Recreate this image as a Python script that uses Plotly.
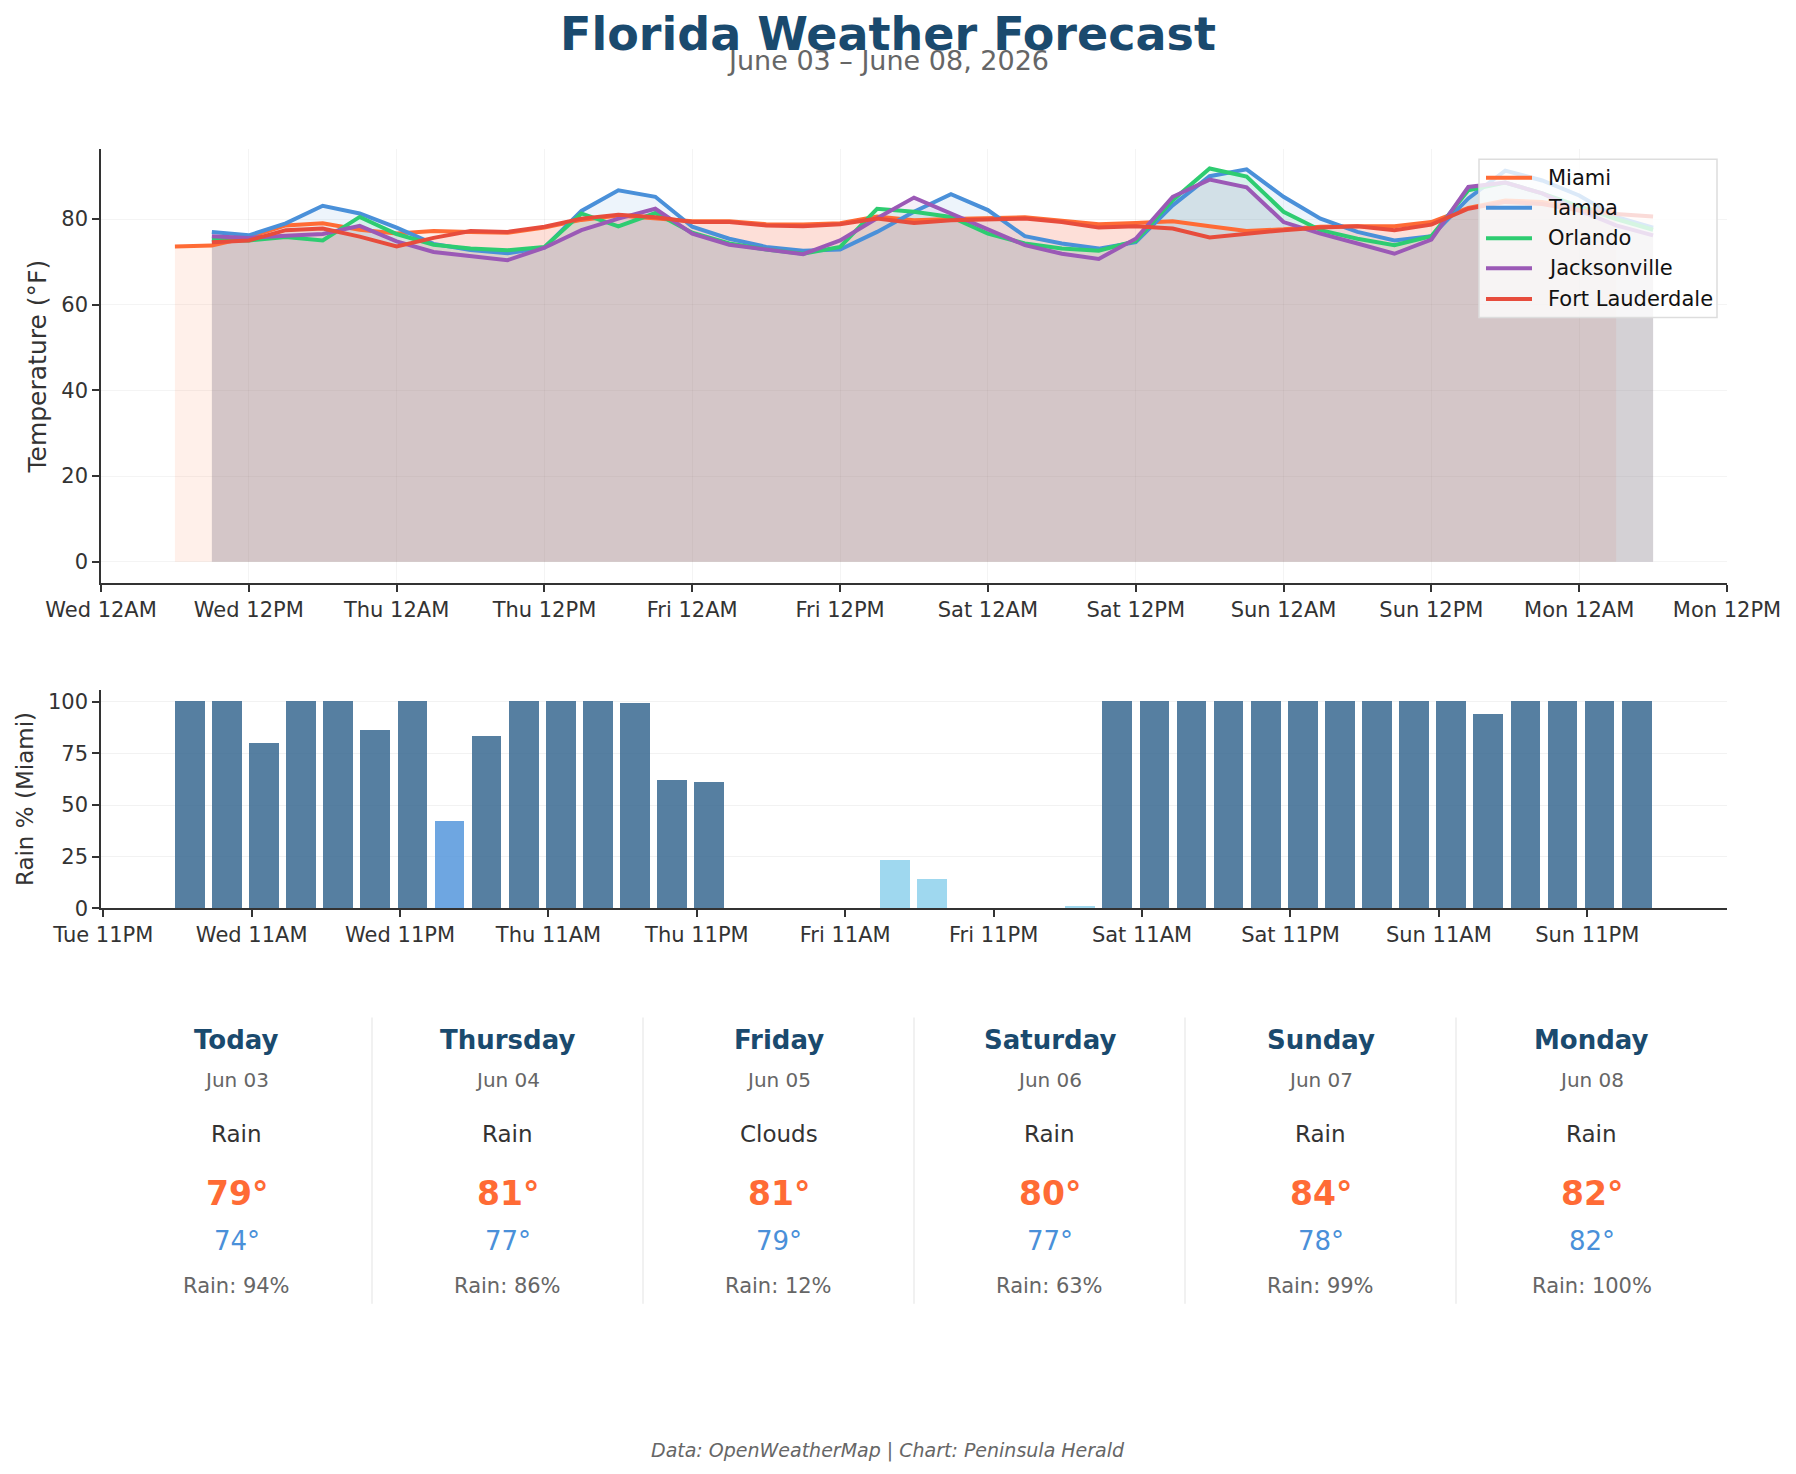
import plotly.graph_objects as go

W, H = 1796, 1474
HP = 1460           # effective vertical extent used for paper coordinates
L, R = 101, 1727    # plot area left/right in pixels

# ---------------- data ----------------
times = [
    "2026-06-03 06:00", "2026-06-03 09:00", "2026-06-03 12:00", "2026-06-03 15:00", "2026-06-03 18:00", "2026-06-03 21:00",
    "2026-06-04 00:00", "2026-06-04 03:00", "2026-06-04 06:00", "2026-06-04 09:00", "2026-06-04 12:00", "2026-06-04 15:00", "2026-06-04 18:00", "2026-06-04 21:00",
    "2026-06-05 00:00", "2026-06-05 03:00", "2026-06-05 06:00", "2026-06-05 09:00", "2026-06-05 12:00", "2026-06-05 15:00", "2026-06-05 18:00", "2026-06-05 21:00",
    "2026-06-06 00:00", "2026-06-06 03:00", "2026-06-06 06:00", "2026-06-06 09:00", "2026-06-06 12:00", "2026-06-06 15:00", "2026-06-06 18:00", "2026-06-06 21:00",
    "2026-06-07 00:00", "2026-06-07 03:00", "2026-06-07 06:00", "2026-06-07 09:00", "2026-06-07 12:00", "2026-06-07 15:00", "2026-06-07 18:00", "2026-06-07 21:00",
    "2026-06-08 00:00", "2026-06-08 03:00", "2026-06-08 06:00",
]
miami_times = times[:40]
other_times = times[1:]

miami = [73.6, 73.8, 75.8, 78.5, 79.0, 77.5,
         76.6, 77.2, 77.0, 76.8, 78.0, 79.8, 80.8, 80.1,
         79.5, 79.5, 78.8, 78.7, 79.0, 80.6, 79.7, 80.0,
         80.2, 80.4, 79.6, 78.8, 79.1, 79.5, 78.3, 77.2,
         77.6, 78.2, 78.3, 78.3, 79.3, 82.6, 84.3, 84.0,
         82.4, 82.0]
tampa = [77.0, 76.2, 79.0, 83.1, 81.3,
         78.0, 74.2, 72.8, 72.0, 73.3, 81.9, 86.7, 85.2,
         78.2, 75.4, 73.5, 72.6, 72.9, 77.0, 81.7, 85.8,
         82.1, 76.0, 74.3, 73.1, 74.6, 83.2, 90.0, 91.6,
         85.2, 80.1, 77.0, 75.0, 76.0, 84.8, 91.3, 89.0,
         85.5, 80.5, 78.0]
orlando = [75.2, 75.0, 75.8, 75.0, 80.5,
           76.5, 74.0, 73.1, 72.7, 73.5, 81.3, 78.3, 81.4,
           76.8, 74.3, 72.9, 71.9, 73.5, 82.4, 81.7, 80.5,
           76.6, 74.3, 73.1, 72.6, 74.9, 84.4, 91.8, 89.9,
           81.7, 77.4, 75.4, 73.9, 76.0, 86.7, 88.5, 86.0,
           83.0, 80.0, 77.5]
jacksonville = [76.0, 75.6, 76.1, 76.5, 78.4,
                74.8, 72.3, 71.3, 70.4, 73.3, 77.4, 80.1, 82.4,
                76.6, 74.0, 72.9, 71.8, 75.0, 80.2, 85.0, 81.3,
                77.4, 73.9, 71.9, 70.7, 75.4, 85.2, 89.2, 87.4,
                79.3, 76.6, 74.3, 71.9, 75.2, 87.5, 88.5, 86.0,
                82.0, 78.5, 76.2]
fort_lauderdale = [74.6, 75.0, 77.4, 77.8, 75.9,
                   73.6, 75.6, 77.2, 77.0, 78.2, 80.1, 81.0, 80.4,
                   79.3, 79.3, 78.5, 78.3, 78.8, 80.1, 79.1, 79.7,
                   79.9, 80.1, 79.3, 78.0, 78.3, 77.8, 75.7, 76.6,
                   77.4, 78.0, 78.3, 77.4, 78.7, 82.4, 84.0, 83.5,
                   82.0, 81.2, 80.6]

rain_miami = [100, 100, 80, 100, 100, 86,
              100, 42, 83, 100, 100, 100, 99, 62,
              61, 0, 0, 0, 0, 23, 14, 0,
              0, 0, 1, 100, 100, 100, 100, 100,
              100, 100, 100, 100, 100, 94, 100, 100,
              100, 100]

top_tickvals = ["2026-06-03 00:00", "2026-06-03 12:00", "2026-06-04 00:00", "2026-06-04 12:00",
                "2026-06-05 00:00", "2026-06-05 12:00", "2026-06-06 00:00", "2026-06-06 12:00",
                "2026-06-07 00:00", "2026-06-07 12:00", "2026-06-08 00:00", "2026-06-08 12:00"]
top_ticktext = ["Wed 12AM", "Wed 12PM", "Thu 12AM", "Thu 12PM", "Fri 12AM", "Fri 12PM",
                "Sat 12AM", "Sat 12PM", "Sun 12AM", "Sun 12PM", "Mon 12AM", "Mon 12PM"]
bar_tickvals = ["2026-06-02 23:00", "2026-06-03 11:00", "2026-06-03 23:00", "2026-06-04 11:00",
                "2026-06-04 23:00", "2026-06-05 11:00", "2026-06-05 23:00", "2026-06-06 11:00",
                "2026-06-06 23:00", "2026-06-07 11:00", "2026-06-07 23:00"]
bar_ticktext = ["Tue 11PM", "Wed 11AM", "Wed 11PM", "Thu 11AM", "Thu 11PM", "Fri 11AM",
                "Fri 11PM", "Sat 11AM", "Sat 11PM", "Sun 11AM", "Sun 11PM"]

days = ["Today", "Thursday", "Friday", "Saturday", "Sunday", "Monday"]
dates = ["Jun 03", "Jun 04", "Jun 05", "Jun 06", "Jun 07", "Jun 08"]
conditions = ["Rain", "Rain", "Clouds", "Rain", "Rain", "Rain"]
highs = [79, 81, 81, 80, 84, 82]
lows = [74, 77, 79, 77, 78, 82]
rain_daily = [94, 86, 12, 63, 99, 100]

# ---------------- styles ----------------
FONT = "DejaVu Sans"
TITLE_C = "#1a4a6e"
cities = [
    ("Miami", miami_times, miami, "#ff6b35", "rgba(255,107,53,0.10)"),
    ("Tampa", other_times, tampa, "#4a90d9", "rgba(74,144,217,0.10)"),
    ("Orlando", other_times, orlando, "#2ecc71", "rgba(46,204,113,0.10)"),
    ("Jacksonville", other_times, jacksonville, "#9b59b6", "rgba(155,89,182,0.10)"),
    ("Fort Lauderdale", other_times, fort_lauderdale, "#e74c3c", "rgba(231,76,60,0.10)"),
]


def px(y):
    return 1 - y / HP


def pxx(x):
    return (x - L) / (R - L)


fig = go.Figure()
for name, t, v, col, fcol in cities:
    fig.add_trace(go.Scatter(x=t, y=v, mode="lines", fill="tozeroy", fillcolor=fcol,
                             line=dict(width=0, color=fcol), showlegend=False,
                             hoverinfo="skip", xaxis="x", yaxis="y"))
for name, t, v, col, fcol in cities:
    fig.add_trace(go.Scatter(x=t, y=v, mode="lines", name=name, showlegend=False,
                             line=dict(width=4, color=col), xaxis="x", yaxis="y"))


def bar_color(v):
    if v >= 50:
        return "rgba(44,95,138,0.8)"
    if v >= 25:
        return "rgba(74,144,217,0.8)"
    return "rgba(135,206,235,0.8)"


fig.add_trace(go.Bar(x=miami_times, y=rain_miami, width=2.4 * 3600 * 1000,
                     marker=dict(color=[bar_color(v) for v in rain_miami], line=dict(width=0)),
                     showlegend=False, xaxis="x2", yaxis="y2"))

axis_common = dict(showline=True, linecolor="#333", linewidth=1.6, ticks="outside",
                   ticklen=7, tickwidth=1.5, tickcolor="#333",
                   tickfont=dict(family=FONT, size=21, color="#333"),
                   zeroline=False, mirror=False)

annotations = []
shapes = []


def note(text, x, y, size, color, **kw):
    d = dict(text=text, x=x, y=y, xref="paper", yref="paper", showarrow=False,
             xanchor="center", yanchor="middle", font=dict(family=FONT, size=size, color=color))
    d.update(kw)
    annotations.append(d)


note("<b>Florida Weather Forecast</b>", pxx(888), px(34), 46, TITLE_C)
note("June 03 – June 08, 2026", pxx(888), px(60), 27, "#666")
note("Temperature (°F)", pxx(38), px(366), 25, "#333", textangle=-90)
note("Rain % (Miami)", pxx(25), px(798), 23, "#333", textangle=-90)
note("<i>Data: OpenWeatherMap | Chart: Peninsula Herald</i>", pxx(888), px(1449), 19, "#666")

# legend (drawn by hand to match the reference box)
shapes.append(dict(type="rect", xref="paper", yref="paper", layer="above",
                   x0=pxx(1479), x1=pxx(1717), y0=px(317), y1=px(159),
                   fillcolor="rgba(255,255,255,0.8)", line=dict(color="#dddddd", width=1.5)))
legend_y = [177.5, 207.5, 238, 268, 298.5]
for (name, t, v, col, fcol), ly in zip(cities, legend_y):
    shapes.append(dict(type="line", xref="paper", yref="paper", layer="above",
                       x0=pxx(1486), x1=pxx(1532), y0=px(ly), y1=px(ly),
                       line=dict(color=col, width=4)))
    note(name, pxx(1546), px(ly), 21, "#111", xanchor="left")

colw = (R - L) / 6
for i in range(6):
    cx = pxx(L + colw * (i + 0.5))
    rows = [
        (f"<b>{days[i]}</b>", 1039, 26, TITLE_C),
        (dates[i], 1079, 20, "#666"),
        (conditions[i], 1132, 23, "#333"),
        (f"<b>{highs[i]}°</b>", 1192, 33, "#ff6b35"),
        (f"{lows[i]}°", 1239, 26, "#4a90d9"),
        (f"Rain: {rain_daily[i]}%", 1284, 21, "#666"),
    ]
    for txt, yy, sz, c in rows:
        note(txt, cx, px(yy), sz, c)
    if i > 0:
        xs = pxx(L + colw * i)
        shapes.append(dict(type="line", xref="paper", yref="paper", x0=xs, x1=xs,
                           y0=px(1302), y1=px(1016), line=dict(color="#ececec", width=1.5)))

fig.update_layout(
    width=W, height=H,
    margin=dict(l=L, r=W - R, t=0, b=0),
    paper_bgcolor="white", plot_bgcolor="white",
    font=dict(family=FONT, color="#333"),
    bargap=0,
    xaxis=dict(domain=[0, 1], anchor="y", type="date",
               range=["2026-06-03 00:00", "2026-06-08 12:00"],
               tickvals=top_tickvals, ticktext=top_ticktext,
               showgrid=True, gridcolor="rgba(0,0,0,0.045)", gridwidth=1.2,
               layer="above traces", **axis_common),
    yaxis=dict(domain=[px(582), px(149)], anchor="x", range=[-4.9, 96.3],
               tickvals=[0, 20, 40, 60, 80],
               showgrid=True, gridcolor="rgba(0,0,0,0.045)", gridwidth=1.2,
               layer="above traces", **axis_common),
    xaxis2=dict(domain=[0, 1], anchor="y2", type="date",
                range=["2026-06-02 22:49", "2026-06-08 10:18"],
                tickvals=bar_tickvals, ticktext=bar_ticktext,
                showgrid=False, **axis_common),
    yaxis2=dict(domain=[px(907), px(689.5)], anchor="x2", range=[0, 105.5],
                tickvals=[0, 25, 50, 75, 100],
                showgrid=True, gridcolor="#f2f2f2", gridwidth=1.2, **axis_common),
    annotations=annotations,
    shapes=shapes,
    showlegend=False,
)

fig.write_html("out.html")
